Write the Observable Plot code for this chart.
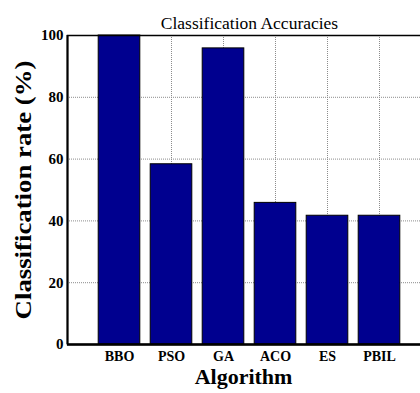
<!DOCTYPE html>
<html>
<head>
<meta charset="utf-8">
<script src="https://cdn.jsdelivr.net/npm/d3@7"></script>
<script src="https://cdn.jsdelivr.net/npm/@observablehq/plot@0.6"></script>
<style>
  html, body { margin: 0; padding: 0; background: #fff; }
  #chart svg { display: block; }
</style>
</head>
<body>
<div id="chart"></div>
<script>
const categories = ["BBO", "PSO", "GA", "ACO", "ES", "PBIL"];
const rates = [100, 58.33, 95.83, 45.83, 41.67, 41.67];
const yTicks = [0, 20, 40, 60, 80, 100];
const yGrid = [20, 40, 60, 80];
const titleText = "Classification Accuracies";
const xLabel = "Algorithm";
const yLabel = "Classification rate (%)";

const data = categories.map((c, i) => ({name: c, pos: i + 1, rate: rates[i]}));
const positions = data.map(d => d.pos);
const serif = "'Liberation Serif', 'Times New Roman', serif";

const chart = Plot.plot({
  width: 420,
  height: 393,
  marginLeft: 67,
  marginRight: -11,
  marginTop: 35,
  marginBottom: 49,
  style: {fontFamily: serif, background: "white", overflow: "visible"},
  x: {domain: [0, 7]},
  y: {domain: [0, 100]},
  marks: [
    Plot.ruleX(positions, {x: d => d, stroke: "#8c8c8c", strokeWidth: 1, strokeDasharray: "1,1"}),
    Plot.ruleY(yGrid, {y: d => d, stroke: "#8c8c8c", strokeWidth: 1, strokeDasharray: "1,1"}),
    Plot.rectY(data, {x1: d => d.pos - 0.4, x2: d => d.pos + 0.4, y1: 0, y2: "rate", fill: "#00008F", stroke: "black", strokeWidth: 1}),
    Plot.frame({stroke: "black", strokeWidth: 1.5}),
    Plot.ruleX([0], {stroke: "black", strokeWidth: 2}),
    Plot.ruleY([0], {stroke: "black", strokeWidth: 2.5}),
    Plot.axisX(positions, {tickSize: 0, tickPadding: 7, tickFormat: d => categories[d - 1], fontSize: 14, fontWeight: "bold", label: null}),
    Plot.axisY(yTicks, {tickSize: 0, tickPadding: 4, fontSize: 15, fontWeight: "bold", label: null}),
    Plot.text([titleText], {frameAnchor: "top", dy: -19, fontSize: 17.5, fill: "black"}),
    Plot.text([xLabel], {frameAnchor: "bottom", dx: -6, dy: 39, fontSize: 22, fontWeight: "bold", fill: "black"}),
    Plot.text([yLabel], {frameAnchor: "left", textAnchor: "middle", dx: -44, rotate: -90, fontSize: 23, fontWeight: "bold", fill: "black"})
  ]
});

document.getElementById("chart").appendChild(chart);
chart.querySelectorAll("text").forEach(t => {
  if (t.textContent === yLabel) {
    const len = t.getComputedTextLength();
    const s = len > 0 ? 259 / len : 1;
    const tr = t.getAttribute("transform") || "";
    t.setAttribute("transform", tr + ` scale(${s.toFixed(3)},1)`);
  }
});
</script>
</body>
</html>
